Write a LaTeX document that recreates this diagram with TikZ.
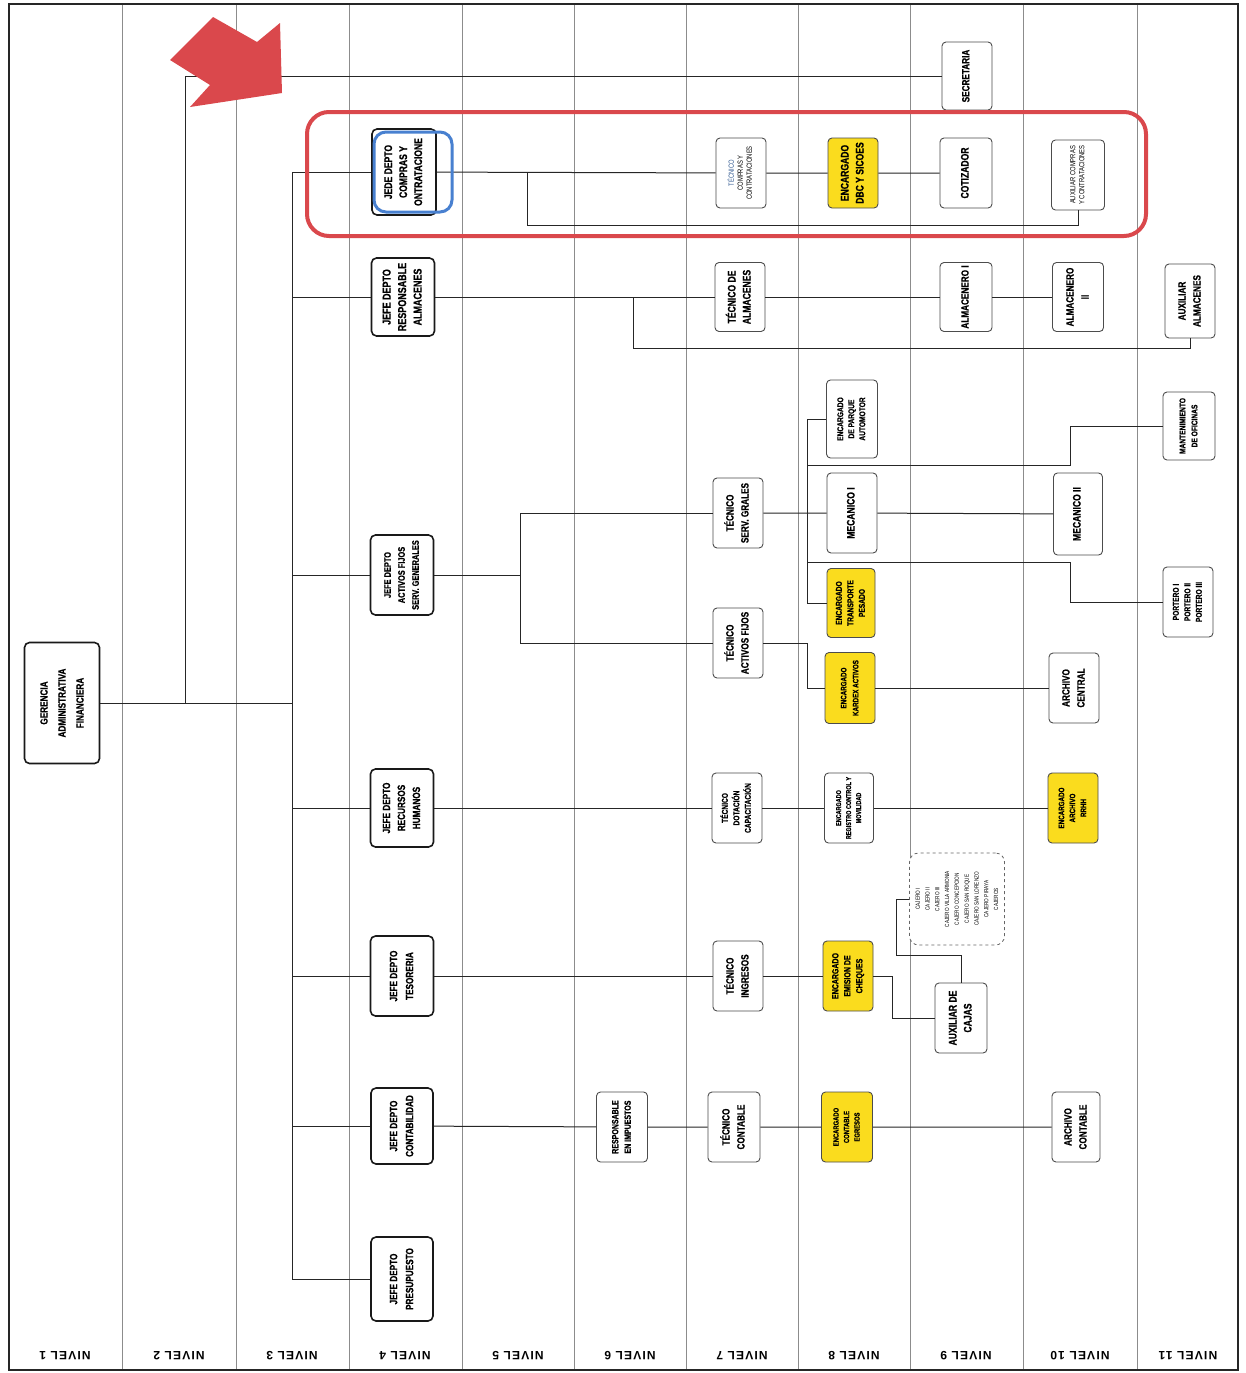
\documentclass[tikz,border=0pt]{standalone}
\usepackage{fontspec}
\setmainfont{Liberation Sans}[FakeStretch=0.78, BoldFeatures={FakeBold=0.6}]
\newfontfamily\labfont{Liberation Sans}[LetterSpace=10]
\usepackage{graphicx}
\definecolor{ylw}{RGB}{250,220,30}
\definecolor{redx}{RGB}{218,72,76}
\definecolor{bluex}{RGB}{72,128,208}
\newcommand\rt[3]{\rotatebox{90}{\fontsize{#1}{#2}\selectfont\begin{tabular}{@{}c@{}}#3\end{tabular}}}
\tikzset{
  bx/.style={draw=black!70, line width=0.9pt, rounded corners=4pt, fill=white, inner sep=0pt, font=\bfseries},
  jefe/.style={bx, draw=black!90, line width=1.6pt, rounded corners=5pt},
  yl/.style={bx, fill=ylw},
  thin/.style={bx, font=\mdseries},
  sz/.style 2 args={minimum width=#1, minimum height=#2},
  ln/.style={draw=black!85, line width=1pt},
  gridln/.style={draw=black!45, line width=0.8pt},
  lab/.style={rotate=180, font=\labfont\bfseries\fontsize{12}{14}\selectfont},
}
\begin{document}
\begin{tikzpicture}[x=1pt, y=-1pt]
\useasboundingbox (0,0) rectangle (1246,1373);
\fill[white] (0,0) rectangle (1246,1373);
% grid
\foreach \gx in {122,236,349,462,574,686,798,910,1023,1137}
  \draw[gridln] (\gx,4) -- (\gx,1370);
\draw[black!85, line width=1.6pt] (9,4) rectangle (1238,1370);
% level labels
\foreach \gx/\n in {65/1,179/2,292/3,405/4,518/5,630/6,742/7,854/8,966/9,1080/10,1188/11}
  \node[lab] (lv\n) at (\gx,1356) {NIVEL \n};

% nodes
\node[jefe, sz={75pt}{121pt}] (ger) at (62,703) {\rt{10.5}{18}{GERENCIA\\ADMINISTRATIVA\\FINANCIERA}};
\node[bx, sz={50pt}{68pt}] (secret) at (967,76) {\rt{10.5}{12}{SECRETARIA}};

\node[jefe, sz={64pt}{86pt}] (jcomp) at (404,172) {\rt{11}{15}{JEDE DEPTO\\COMPRAS Y\\ONTRATACIONE}};
\node[jefe, sz={63pt}{78pt}] (jalm) at (403,297) {\rt{11.5}{15.5}{JEFE DEPTO\\RESPONSABLE\\ALMACENES}};
\node[jefe, sz={63pt}{80pt}] (jact) at (402,575) {\rt{9.5}{14}{JEFE DEPTO\\ACTIVOS FIJOS\\SERV. GENERALES}};
\node[jefe, sz={63pt}{78pt}] (jrrhh) at (402,808) {\rt{10.5}{15}{JEFE DEPTO\\RECURSOS\\HUMANOS}};
\node[jefe, sz={63pt}{80pt}] (jtes) at (402,976) {\rt{10.5}{16}{JEFE DEPTO\\TESORERIA}};
\node[jefe, sz={62pt}{76pt}] (jcont) at (402,1126) {\rt{10.5}{16}{JEFE DEPTO\\CONTABILIDAD}};
\node[jefe, sz={62pt}{84pt}] (jpres) at (402,1279) {\rt{10.5}{16}{JEFE DEPTO\\PRESUPUESTO}};

% compras row
\node[thin, sz={50pt}{70pt}] (tcomp) at (741,173) {\rt{7.5}{9}{\textcolor{bluex!70!black}{TÉCNICO}\\COMPRAS Y\\CONTRATACIONES}};
\node[yl, sz={50pt}{70pt}] (encdbc) at (853,173) {\rt{11}{15}{ENCARGADO\\DBC Y SICOES}};
\node[bx, sz={52pt}{70pt}] (cotiz) at (966,173) {\rt{11}{13}{COTIZADOR}};
\node[thin, sz={53pt}{70pt}] (auxcomp) at (1078,175) {\rt{7.5}{9}{AUXILIAR COMPRAS\\Y CONTRATACIONES}};

% almacenes row
\node[bx, sz={50pt}{69pt}] (talm) at (740,297) {\rt{11}{15}{TÉCNICO DE\\ALMACENES}};
\node[bx, sz={52pt}{69pt}] (alm1) at (966,297) {\rt{10.5}{13}{ALMACENERO I}};
\node[bx, sz={51pt}{69pt}] (alm2) at (1078,297) {\rt{10.5}{15}{ALMACENERO\\II}};
\node[bx, sz={50pt}{74pt}] (auxalm) at (1190,301) {\rt{10.5}{15}{AUXILIAR\\ALMACENES}};

% activos / servicios
\node[bx, sz={50pt}{70pt}] (tserv) at (738,513) {\rt{10.5}{15}{TÉCNICO\\SERV. GRALES}};
\node[bx, sz={50pt}{70pt}] (tactf) at (738,643) {\rt{10.5}{15}{TÉCNICO\\ACTIVOS FIJOS}};
\node[bx, sz={51pt}{78pt}] (encparq) at (852,419) {\rt{8.5}{11}{ENCARGADO\\DE PARQUE\\AUTOMOTOR}};
\node[bx, sz={50pt}{80pt}] (mec1) at (852,513) {\rt{11}{13}{MECANICO I}};
\node[yl, sz={48pt}{69pt}] (enctrans) at (851,603) {\rt{8.5}{11.5}{ENCARGADO\\TRANSPORTE\\PESADO}};
\node[yl, sz={50pt}{71pt}] (enckard) at (850,688) {\rt{8}{12}{ENCARGADO\\KARDEX ACTIVOS}};
\node[bx, sz={49pt}{82pt}] (mec2) at (1078,514) {\rt{11}{13}{MECANICO II}};
\node[bx, sz={52pt}{68pt}] (mant) at (1189,426) {\rt{8.5}{12}{MANTENIMIENTO\\DE OFICINAS}};
\node[bx, sz={50pt}{70pt}] (port) at (1188,602) {\rt{8.5}{11.5}{PORTERO I\\PORTERO II\\PORTERO III}};
\node[bx, sz={50pt}{70pt}] (archc) at (1074,688) {\rt{10.5}{15}{ARCHIVO\\CENTRAL}};

% rrhh row
\node[bx, sz={50pt}{70pt}] (tdot) at (737,808) {\rt{8.5}{11.5}{TÉCNICO\\DOTACIÓN\\CAPACITACIÓN}};
\node[bx, sz={49pt}{70pt}] (encreg) at (849,808) {\rt{7}{10}{ENCARGADO\\REGISTRO CONTROL Y\\MOVILIDAD}};
\node[yl, sz={50pt}{70pt}] (encarrhh) at (1073,808) {\rt{8}{11}{ENCARGADO\\ARCHIVO\\RRHH}};

% tesoreria row
\node[bx, sz={50pt}{70pt}] (ting) at (738,976) {\rt{10.5}{15}{TÉCNICO\\INGRESOS}};
\node[yl, sz={50pt}{70pt}] (encche) at (848,976) {\rt{9}{12}{ENCARGADO\\EMISION DE\\CHEQUES}};
\node[bx, sz={52pt}{70pt}] (auxcaj) at (961,1018) {\rt{11}{15}{AUXILIAR DE\\CAJAS}};
\node[thin, dashed, draw=black!60, line width=0.8pt, rounded corners=9pt, sz={95pt}{92pt}] (cajeros) at (957,899)
  {\rt{6}{9.8}{CAJERO I\\CAJERO II\\CAJERO III\\CAJERO VILLA ARMONIA\\CAJERO CONCEPCION\\CAJERO SAN ROQUE\\CAJERO SAN LORENZO\\CAJERO PIRAYA\\CAJEROS}};

% contabilidad row
\node[bx, sz={51pt}{70pt}] (rimp) at (622,1127) {\rt{9}{12.5}{RESPONSABLE\\EN IMPUESTOS}};
\node[bx, sz={52pt}{70pt}] (tcont) at (734,1127) {\rt{10.5}{15}{TÉCNICO\\CONTABLE}};
\node[yl, sz={51pt}{70pt}] (encegr) at (847,1127) {\rt{7.5}{10.5}{ENCARGADO\\CONTABLE\\EGRESOS}};
\node[bx, sz={48pt}{70pt}] (archcont) at (1076,1127) {\rt{10.5}{15}{ARCHIVO\\CONTABLE}};

% coordinates
\coordinate (s1) at (292,172);
\coordinate (g2) at (185,703);
\coordinate (c1) at (527,172);
\coordinate (c2) at (527,225);
\coordinate (a1) at (633,297);
\coordinate (a2) at (633,348);
\coordinate (bt) at (520,513);
\coordinate (bb) at (520,643);
\coordinate (v1) at (807,419);
\coordinate (v2) at (807,603);
\coordinate (h1) at (807,465);
\coordinate (h1e) at (1070,465);
\coordinate (h2) at (807,562);
\coordinate (h2e) at (1070,562);
\coordinate (k1) at (807,643);
\coordinate (k2) at (807,688);
\coordinate (t1) at (892,976);
\coordinate (t2) at (892,1018);
\coordinate (t3) at (961,955);
\coordinate (t4) at (896,955);
\coordinate (t5) at (896,899);

% connectors
\draw[ln] (jcomp) -- (s1) |- (jpres);
\foreach \j in {jalm,jact,jrrhh,jtes,jcont} \draw[ln] (\j) -- (\j -| s1);
\draw[ln] (ger) -- (ger -| s1);
\draw[ln] (g2) |- (secret);
\draw[ln] (jcomp) -- (tcomp) -- (encdbc) -- (cotiz);
\draw[ln] (c1) -- (c2) -| (auxcomp);
\draw[ln] (jalm) -- (talm) -- (alm1) -- (alm2);
\draw[ln] (a1) -- (a2) -| (auxalm);
\draw[ln] (jact) -- (jact -| bt);
\draw[ln] (tserv) -- (bt) -- (bb) -- (tactf);
\draw[ln] (tserv) -- (mec1) -- (mec2);
\draw[ln] (encparq) -- (v1) -- (v2) -- (enctrans);
\draw[ln] (h1) -- (h1e) |- (mant);
\draw[ln] (h2) -- (h2e) |- (port);
\draw[ln] (tactf) -- (k1) -- (k2) -- (enckard) -- (archc);
\draw[ln] (jrrhh) -- (tdot) -- (encreg) -- (encarrhh);
\draw[ln] (jtes) -- (ting) -- (encche);
\draw[ln] (encche) -- (t1) -- (t2) -- (auxcaj);
\draw[ln] (auxcaj) -- (t3) -- (t4) -- (t5) -- (cajeros);
\draw[ln] (jcont) -- (rimp) -- (tcont) -- (encegr) -- (archcont);

% highlight overlays
\draw[redx, line width=4pt, rounded corners=22pt] (307,112) rectangle (1146,236);
\draw[bluex, line width=3pt, rounded corners=12pt] (374,132) rectangle (452,212);
\fill[redx] (170,60) -- (213,17) -- (257,42) -- (280,23) -- (282,93) -- (190,107) -- (210,85) -- cycle;
\end{tikzpicture}
\end{document}
